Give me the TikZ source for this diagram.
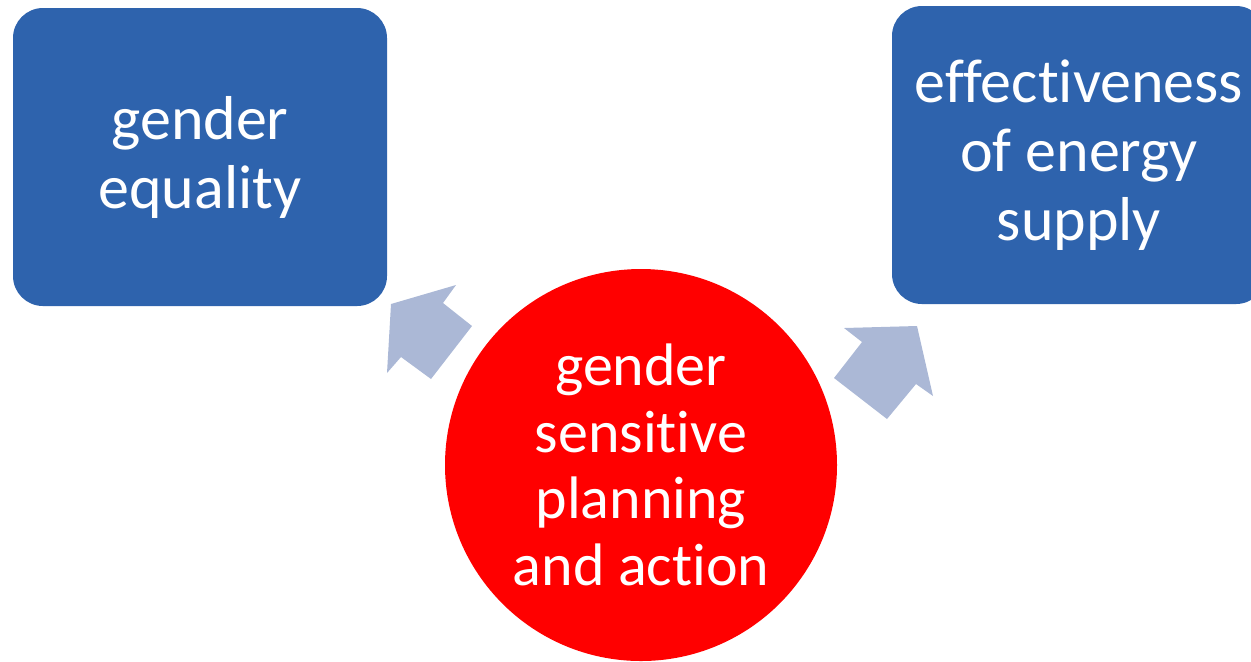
\documentclass[tikz,border=0pt]{standalone}
\usepackage{fontspec}
\setmainfont[Ligatures=NoCommon]{Carlito}
\definecolor{boxblue}{RGB}{46,99,173}
\definecolor{arrowgrey}{RGB}{171,184,214}
\definecolor{circred}{RGB}{255,0,0}
\tikzset{
  bluebox/.style={rectangle, rounded corners=15pt, fill=boxblue, text=white,
    minimum width=187pt, minimum height=149pt, align=center, inner sep=0pt,
    font=\fontsize{31}{34.5}\selectfont},
  redcircle/.style={circle, fill=circred, text=white, minimum size=196pt,
    align=center, inner sep=0pt, font=\fontsize{30}{33.3}\selectfont},
  blockarrow/.style={fill=arrowgrey, draw=none}
}
\begin{document}
\begin{tikzpicture}[x=0.5pt,y=-0.5pt]
  \useasboundingbox (0,0) rectangle (1251,661);
  \clip (0,0) rectangle (1251,661);
  \node[bluebox] (eq) at (200,157) {gender\\equality};
  \node[bluebox] (eff) at (1079,155) {effectiveness\\of energy\\supply};
  \node[redcircle] (gsp) at (641,465) {gender\\sensitive\\planning\\and action};
  % block arrow towards gender equality
  \fill[blockarrow] (391,304) -- (456,285) -- (443,303) -- (472,326) -- (431,379) -- (401,357) -- (387,373) -- cycle;
  % block arrow towards effectiveness of energy supply
  \fill[blockarrow] (917,326) -- (933,396) -- (916,384) -- (887,419) -- (834,378) -- (862,342) -- (844,328) -- cycle;
\end{tikzpicture}
\end{document}
